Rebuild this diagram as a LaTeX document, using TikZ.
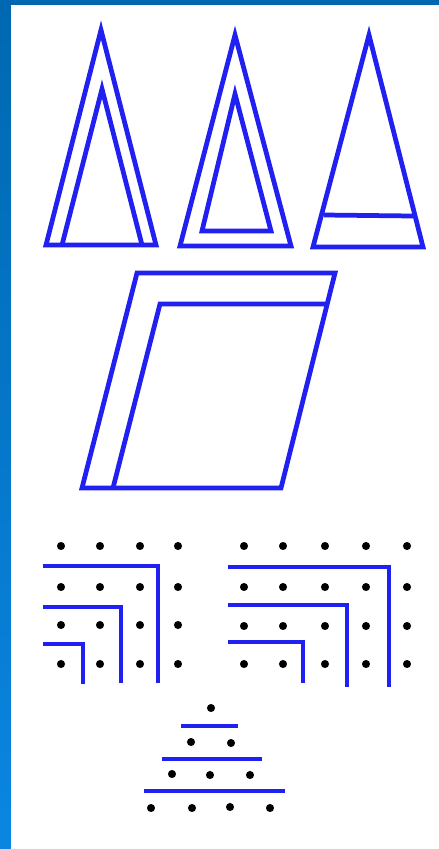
\documentclass[tikz,border=0pt]{standalone}
\definecolor{figblue}{HTML}{2020F0}
\definecolor{frametop}{HTML}{0068B0}
\definecolor{framebot}{HTML}{0A86E2}
\usetikzlibrary{positioning}

\begin{document}
\begin{tikzpicture}[x=0.02cm, y=-0.02cm,
  fig/.style={draw=figblue, line width=2.7pt, line join=miter},
  dot/.style={fill=black}
]
  % Frame
  \fill[top color=frametop, bottom color=framebot] (0,0) rectangle (439,849);
  \fill[white] (11,5) rectangle (439,849);
  \useasboundingbox (0,0) rectangle (439,849);

  % Triangles
  \draw[fig] (46,245) -- (101,30) -- (156,245) -- cycle;
  \draw[fig] (62,245) -- (102,89) -- (142,245);
  \draw[fig] (180,246) -- (235,35) -- (291,246) -- cycle;
  \draw[fig] (202,231) -- (235,94) -- (271,231) -- cycle;
  \draw[fig] (313,247) -- (369,35) -- (423,247) -- cycle;
  \draw[fig] (324,215) -- (413,216);

  % Parallelogram
  \draw[fig] (137,273) -- (335,273) -- (281,488) -- (82,488) -- cycle;
  \draw[fig] (326,304) -- (160,304) -- (113,488);

  % Dot grids
  \foreach \x in {61,100,140,178}
    \foreach \y in {546,587,625,664}
      \fill[dot] (\x,\y) circle (2.3pt);
  \foreach \x in {244,283,325,366,407}
    \foreach \y in {546,587,626,664}
      \fill[dot] (\x,\y) circle (2.3pt);

  \draw[fig] (43,566) -| (158,683);
  \draw[fig] (43,607) -| (121,683);
  \draw[fig] (43,644) -| (83,684);
  \draw[fig] (228,567) -| (389,687);
  \draw[fig] (228,605) -| (347,687);
  \draw[fig] (228,642) -| (303,683);

  % Dot triangle
  \foreach \p in {(211,708), (191,742), (231,743), (172,774), (210,775), (250,775),
                  (151,808), (192,808), (230,807), (270,808)}
    \fill[dot] \p circle (2.3pt);
  \draw[fig] (181,726) -- (238,726);
  \draw[fig] (162,759) -- (262,759);
  \draw[fig] (144,791) -- (285,791);
\end{tikzpicture}
\end{document}
